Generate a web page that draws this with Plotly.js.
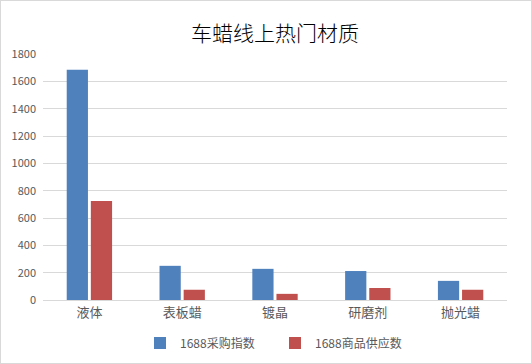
<!DOCTYPE html>
<html><head><meta charset="utf-8">
<script src="https://cdn.plot.ly/plotly-3.0.1.min.js"></script>
<style>
html,body{margin:0;padding:0;background:#fff;}
#wrap{position:relative;width:532px;height:364px;}
#chart{width:532px;height:364px;}
#border{position:absolute;left:0;top:0;width:530px;height:362px;border:1px solid #d9d9d9;pointer-events:none;}
</style>
</head><body>
<div id="wrap"><div id="chart"></div><div id="border"></div></div>
<script>
const categories = ["液体","表板蜡","镀晶","研磨剂","抛光蜡"];
const purchaseIndex = [1685, 250, 228, 212, 140];
const supplyCount = [725, 75, 45, 88, 75];
const seriesNames = ["1688采购指数","1688商品供应数"];
const yTicks = [0,200,400,600,800,1000,1200,1400,1600,1800];

const font = "'Noto Sans CJK SC', 'Noto Sans', sans-serif";
const data = [
  {type:'bar', name:seriesNames[0], x:categories, y:purchaseIndex, marker:{color:'#4f81bd'}},
  {type:'bar', name:seriesNames[1], x:categories, y:supplyCount, marker:{color:'#c0504d'}}
];
const layout = {
  width:532, height:364,
  margin:{l:43, r:25, t:54, b:64},
  paper_bgcolor:'#fff', plot_bgcolor:'#fff',
  font:{family:font, color:'#595959', size:11},
  title:{text:'车蜡线上热门材质', xref:'paper', x:0.5, xanchor:'center', yref:'container', y:0.908, yanchor:'middle', font:{family:font, size:21, color:'#000', weight:300}},
  barmode:'group', bargap:0.48, bargroupgap:0.12,
  xaxis:{showgrid:false, showline:true, linecolor:'#d9d9d9', linewidth:1, ticks:'', tickfont:{size:13, color:'#595959'}, zeroline:false, automargin:false},
  yaxis:{range:[0,1800], tickvals:yTicks, showgrid:true, gridcolor:'#d9d9d9', gridwidth:1, zeroline:false, showline:false, ticks:'', tickfont:{size:11, color:'#595959'}, ticklabelstandoff:6, automargin:false},
  showlegend:true,
  legend:{orientation:'h', x:0.5, xanchor:'center', xref:'paper', yref:'container', y:0.058, yanchor:'middle', font:{size:12, color:'#595959'}, itemwidth:30, tracegroupgap:0, entrywidth:90}
};
Plotly.newPlot('chart', data, layout, {displayModeBar:false, staticPlot:true});
</script>
</body></html>
